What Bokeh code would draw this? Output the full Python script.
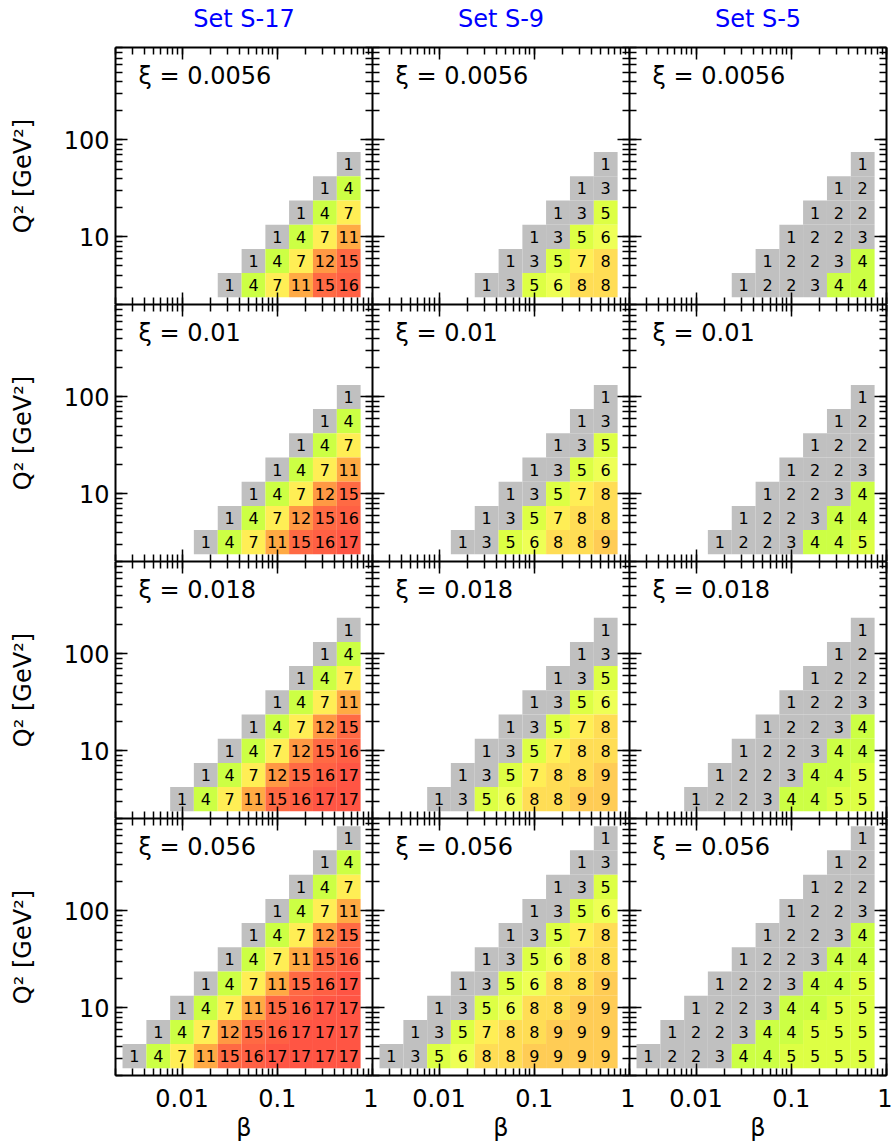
from bokeh.plotting import figure
from bokeh.models import Range1d, LogAxis, LogTicker, BasicTickFormatter, Label, ColumnDataSource
from bokeh.layouts import row, column
from bokeh.embed import file_html
from bokeh.resources import INLINE
from bokeh.core.properties import value

# ---------------- data ----------------
set_titles = ["Set S-17", "Set S-9", "Set S-5"]
xi_labels = ["ξ = 0.0056", "ξ = 0.01", "ξ = 0.018", "ξ = 0.056"]

# bin edges (quarter-decade bins)
beta_edges = [0.00237, 0.00422, 0.0075, 0.0133, 0.0237, 0.0422, 0.075, 0.133, 0.237, 0.422, 0.75]
q2_edges = [2.37, 4.22, 7.5, 13.3, 23.7, 42.2, 75.0, 133.0, 237.0, 422.0, 750.0]

# counts, rows listed from top (highest Q2) to bottom; each row ends at the highest beta bin
s17_xi_0p0056 = [[1], [1, 4], [1, 4, 7], [1, 4, 7, 11], [1, 4, 7, 12, 15], [1, 4, 7, 11, 15, 16]]
s17_xi_0p01 = [[1], [1, 4], [1, 4, 7], [1, 4, 7, 11], [1, 4, 7, 12, 15], [1, 4, 7, 12, 15, 16],
               [1, 4, 7, 11, 15, 16, 17]]
s17_xi_0p018 = [[1], [1, 4], [1, 4, 7], [1, 4, 7, 11], [1, 4, 7, 12, 15], [1, 4, 7, 12, 15, 16],
                [1, 4, 7, 12, 15, 16, 17], [1, 4, 7, 11, 15, 16, 17, 17]]
s17_xi_0p056 = [[1], [1, 4], [1, 4, 7], [1, 4, 7, 11], [1, 4, 7, 12, 15], [1, 4, 7, 11, 15, 16],
                [1, 4, 7, 11, 15, 16, 17], [1, 4, 7, 11, 15, 16, 17, 17],
                [1, 4, 7, 12, 15, 16, 17, 17, 17], [1, 4, 7, 11, 15, 16, 17, 17, 17, 17]]

s9_xi_0p0056 = [[1], [1, 3], [1, 3, 5], [1, 3, 5, 6], [1, 3, 5, 7, 8], [1, 3, 5, 6, 8, 8]]
s9_xi_0p01 = [[1], [1, 3], [1, 3, 5], [1, 3, 5, 6], [1, 3, 5, 7, 8], [1, 3, 5, 7, 8, 8],
              [1, 3, 5, 6, 8, 8, 9]]
s9_xi_0p018 = [[1], [1, 3], [1, 3, 5], [1, 3, 5, 6], [1, 3, 5, 7, 8], [1, 3, 5, 7, 8, 8],
               [1, 3, 5, 7, 8, 8, 9], [1, 3, 5, 6, 8, 8, 9, 9]]
s9_xi_0p056 = [[1], [1, 3], [1, 3, 5], [1, 3, 5, 6], [1, 3, 5, 7, 8], [1, 3, 5, 6, 8, 8],
               [1, 3, 5, 6, 8, 8, 9], [1, 3, 5, 6, 8, 8, 9, 9], [1, 3, 5, 7, 8, 8, 9, 9, 9],
               [1, 3, 5, 6, 8, 8, 9, 9, 9, 9]]

s5_xi_0p0056 = [[1], [1, 2], [1, 2, 2], [1, 2, 2, 3], [1, 2, 2, 3, 4], [1, 2, 2, 3, 4, 4]]
s5_xi_0p01 = [[1], [1, 2], [1, 2, 2], [1, 2, 2, 3], [1, 2, 2, 3, 4], [1, 2, 2, 3, 4, 4],
              [1, 2, 2, 3, 4, 4, 5]]
s5_xi_0p018 = [[1], [1, 2], [1, 2, 2], [1, 2, 2, 3], [1, 2, 2, 3, 4], [1, 2, 2, 3, 4, 4],
               [1, 2, 2, 3, 4, 4, 5], [1, 2, 2, 3, 4, 4, 5, 5]]
s5_xi_0p056 = [[1], [1, 2], [1, 2, 2], [1, 2, 2, 3], [1, 2, 2, 3, 4], [1, 2, 2, 3, 4, 4],
               [1, 2, 2, 3, 4, 4, 5], [1, 2, 2, 3, 4, 4, 5, 5], [1, 2, 2, 3, 4, 4, 5, 5, 5],
               [1, 2, 2, 3, 4, 4, 5, 5, 5, 5]]

panels = [
    [s17_xi_0p0056, s9_xi_0p0056, s5_xi_0p0056],
    [s17_xi_0p01, s9_xi_0p01, s5_xi_0p01],
    [s17_xi_0p018, s9_xi_0p018, s5_xi_0p018],
    [s17_xi_0p056, s9_xi_0p056, s5_xi_0p056],
]

# colour for each count
count_colors = {1: "#c0c0c0", 2: "#c0c0c0", 3: "#c0c0c0", 4: "#ccff44", 5: "#ddff44",
                6: "#eeff55", 7: "#ffee55", 8: "#ffdd55", 9: "#ffcc55", 11: "#ffaa44",
                12: "#ff9944", 15: "#ff6a44", 16: "#ff6044", 17: "#ff5544"}

FONT = "DejaVu Sans"
FW, FH = 257, 257
LEFT = 115
OVERLAP = 6
HEADER_H = 45


def style_axis(ax, labeled, label_text=None, is_left=False):
    ax.ticker = LogTicker(num_minor_ticks=10)
    ax.formatter = BasicTickFormatter()
    ax.axis_line_color = "black"
    ax.axis_line_width = 2
    ax.major_tick_in = 12
    ax.major_tick_out = 0
    ax.minor_tick_in = 7
    ax.minor_tick_out = 0
    ax.major_tick_line_color = "black"
    ax.minor_tick_line_color = "black"
    ax.major_tick_line_width = 1.5
    ax.minor_tick_line_width = 1.5
    if labeled:
        ax.major_label_text_font = FONT
        ax.major_label_text_font_size = "24px"
        ax.major_label_text_color = "black"
        ax.axis_label = label_text
        ax.axis_label_text_font = FONT
        ax.axis_label_text_font_size = "24px"
        ax.axis_label_text_font_style = "normal"
        ax.axis_label_text_color = "black"
        if is_left:
            ax.major_label_standoff = 6
            ax.axis_label_standoff = 24
        else:
            ax.major_label_standoff = 13
            ax.axis_label_standoff = 4
    else:
        ax.major_label_text_color = None
        ax.major_label_standoff = 0
        ax.axis_label = None


def make_panel(r, c):
    p = figure(x_axis_type="log", y_axis_type="log",
               x_range=Range1d(0.002, 1.0), y_range=Range1d(2.0, 900.0),
               frame_width=FW, frame_height=FH, output_backend="svg", toolbar_location=None,
               min_border=0,
               min_border_left=LEFT if c == 0 else 0,
               min_border_right=OVERLAP,
               min_border_top=2 if r == 0 else 0,
               min_border_bottom=65 if r == 3 else 0,
               border_fill_color=None, outline_line_color=None,
               background_fill_color="white")
    p.xgrid.visible = False
    p.ygrid.visible = False
    p.add_layout(LogAxis(), "right")
    p.add_layout(LogAxis(), "above")
    style_axis(p.left[0], c == 0, "Q² [GeV²]", is_left=True)
    style_axis(p.below[0], r == 3, "β")
    style_axis(p.right[0], False)
    style_axis(p.above[0], False)

    rows_vals = panels[r][c]
    n = len(rows_vals)
    data = dict(left=[], right=[], bottom=[], top=[], xc=[], yc=[], txt=[], color=[])
    for t, vals in enumerate(rows_vals):
        j = n - 1 - t
        for k, v in enumerate(vals):
            i = 10 - len(vals) + k
            l, rr = beta_edges[i], beta_edges[i + 1]
            b, tp = q2_edges[j], q2_edges[j + 1]
            data["left"].append(l)
            data["right"].append(rr)
            data["bottom"].append(b)
            data["top"].append(tp)
            data["xc"].append((l * rr) ** 0.5)
            data["yc"].append((b * tp) ** 0.5)
            data["txt"].append(str(v))
            data["color"].append(count_colors[v])
    src = ColumnDataSource(data)
    p.quad(left="left", right="right", bottom="bottom", top="top", source=src,
           fill_color="color", line_color=None)
    p.text(x="xc", y="yc", text="txt", source=src, text_align="center",
           text_baseline="middle", text_font_size="16px", text_font=value(FONT),
           text_color="black")

    p.add_layout(Label(x=23, y=FH - 28, x_units="screen", y_units="screen",
                       text=xi_labels[r], text_font=FONT, text_font_size="24px",
                       text_baseline="alphabetic", text_color="black"))
    if c > 0:
        p.margin = (0, 0, 0, -OVERLAP)
    return p


# header strip carrying the column titles
total_w = LEFT + 3 * FW + OVERLAP
header = figure(frame_width=total_w, frame_height=HEADER_H, x_range=Range1d(0, 1),
                y_range=Range1d(0, 1), output_backend="svg", toolbar_location=None,
                min_border=0, outline_line_color=None, border_fill_color=None,
                background_fill_color=None, x_axis_location=None, y_axis_location=None)
header.xgrid.visible = False
header.ygrid.visible = False
for c in range(3):
    header.add_layout(Label(x=LEFT + FW / 2 + FW * c, y=27, x_units="screen", y_units="screen",
                            text=set_titles[c], text_font=FONT, text_font_size="24px",
                            text_align="center", text_baseline="alphabetic",
                            text_color="#0000ff"))

rows = [header]
for r in range(4):
    rows.append(row(*[make_panel(r, c) for c in range(3)]))
layout = column(*rows)

open("out.html", "w").write(file_html(layout, INLINE))
